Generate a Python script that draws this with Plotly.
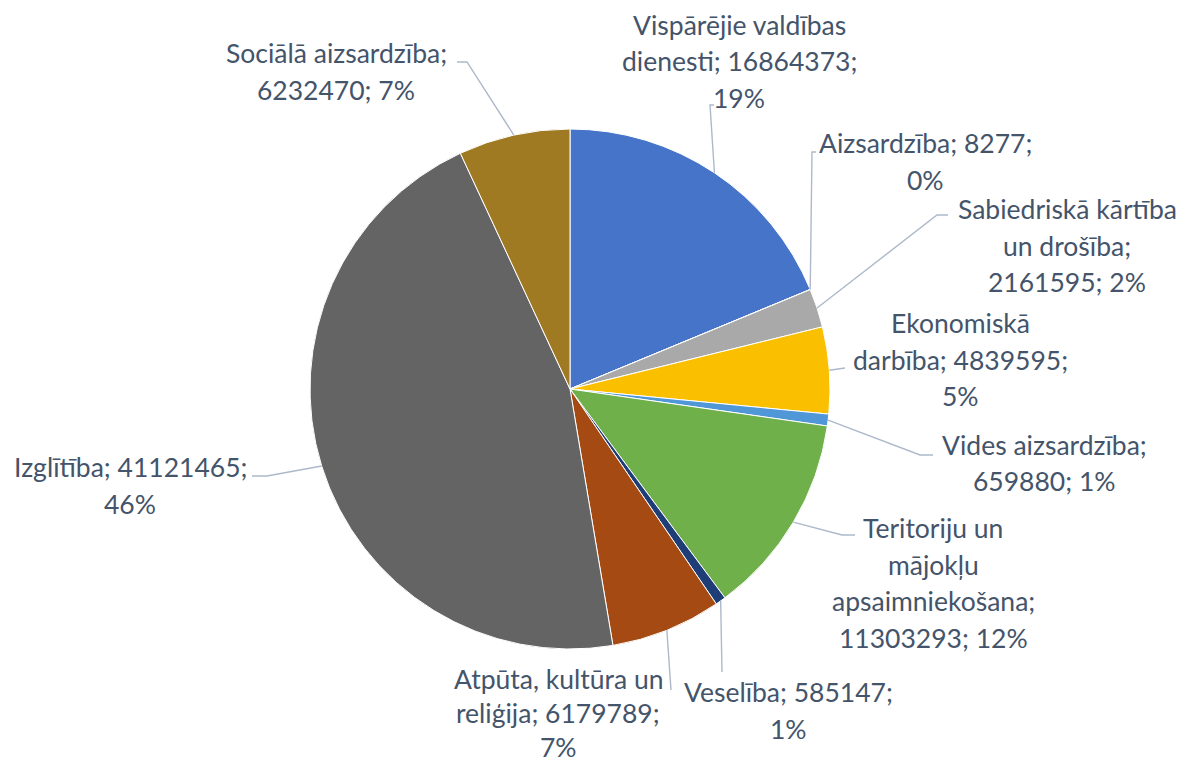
import math
import textwrap
import plotly.graph_objects as go

# ---------------- data ----------------
categories = [
    "Vispārējie valdības dienesti",
    "Aizsardzība",
    "Sabiedriskā kārtība un drošība",
    "Ekonomiskā darbība",
    "Vides aizsardzība",
    "Teritoriju un mājokļu apsaimniekošana",
    "Veselība",
    "Atpūta, kultūra un reliģija",
    "Izglītība",
    "Sociālā aizsardzība",
]
values = [16864373, 8277, 2161595, 4839595, 659880, 11303293, 585147, 6179789, 41121465, 6232470]

# ---------------- style ----------------
colors = ["#4674C9", "#ED7D31", "#A9A9A9", "#FAC000", "#5097D8",
          "#6FB04A", "#1F3E78", "#A64A14", "#646464", "#A07A22"]
wrap_widths = [19, 18, 19, 17, 18, 16, 17, 18, 20, 20]
# label block: (center x px, first line center y px) in window pixels
label_pos = [(739, 25), (925, 143), (1067, 209), (960, 323), (1044, 445),
             (933, 528), (788, 692), (558, 679), (130, 467), (336, 53)]
# per-label line spacing (px)
line_gaps = [36.5, 36.5, 36.5, 36.5, 36.5, 36.5, 36.5, 34, 36.5, 36.5]
# leader line points after the slice-edge point (window px)
leader_pts = [
    [(710, 105), (714, 105)],
    [(812, 152), (816, 152)],
    [(937, 215), (948, 215)],
    [(845, 368)],
    [(920, 455), (933, 455)],
    [(842, 535), (855, 535)],
    [(722, 672)],
    [(671, 690)],
    [(267, 476), (252, 476)],
    [(467, 62), (457, 62)],
]
WIN_W, WIN_H = 1186, 765
OFF = 8  # default page body margin
W, H = WIN_W - OFF, WIN_H - OFF
CX, CY, R = 570, 389, 260
TEXT_COLOR = "#44546A"
LEADER_COLOR = "#ADB9CA"
FONT = "Lato"
FONT_SIZE = 26.5


def to_paper(x, y):
    return (x - OFF) / W, 1 - (y - OFF) / H


# percentages with largest-remainder rounding (as Excel shows them)
total = sum(values)
raw = [v / total * 100 for v in values]
floors = [math.floor(r) for r in raw]
short = 100 - sum(floors)
order = sorted(range(len(raw)), key=lambda i: raw[i] - floors[i], reverse=True)
pcts = floors[:]
for i in order[:short]:
    pcts[i] += 1

x0, y1 = to_paper(CX - R, CY - R)
x1, y0 = to_paper(CX + R, CY + R)

fig = go.Figure()
fig.add_trace(go.Pie(
    labels=categories,
    values=values,
    sort=False,
    direction="clockwise",
    rotation=0,
    textinfo="none",
    hoverinfo="label+value+percent",
    marker=dict(colors=colors, line=dict(color="white", width=1)),
    domain=dict(x=[x0, x1], y=[y0, y1]),
    showlegend=False,
))

annotations = []
shapes = []
cum = 0.0
for i, (cat, val) in enumerate(zip(categories, values)):
    frac_mid = (cum + val / 2) / total
    cum += val
    th = 2 * math.pi * frac_mid
    ex, ey = CX + R * math.sin(th), CY - R * math.cos(th)
    pts = [(ex, ey)] + leader_pts[i]
    path = ""
    for k, (x, y) in enumerate(pts):
        px_, py_ = to_paper(x, y)
        path += ("M" if k == 0 else " L") + f" {px_:.5f} {py_:.5f}"
    shapes.append(dict(type="path", path=path, xref="paper", yref="paper",
                       line=dict(color=LEADER_COLOR, width=1.4)))

    text = f"{cat}; {val}; {pcts[i]}%"
    lines = textwrap.wrap(text, wrap_widths[i])
    lx, ly = label_pos[i]
    for j, ln in enumerate(lines):
        ax, ay = to_paper(lx, ly + j * line_gaps[i])
        annotations.append(dict(
            text=ln, x=ax, y=ay, xref="paper", yref="paper",
            xanchor="center", yanchor="middle", showarrow=False,
            font=dict(family=FONT, size=FONT_SIZE, color=TEXT_COLOR),
        ))

fig.update_layout(
    width=W, height=H,
    margin=dict(l=0, r=0, t=0, b=0),
    paper_bgcolor="white",
    plot_bgcolor="white",
    annotations=annotations,
    shapes=shapes,
)

fig.write_html("out.html")
